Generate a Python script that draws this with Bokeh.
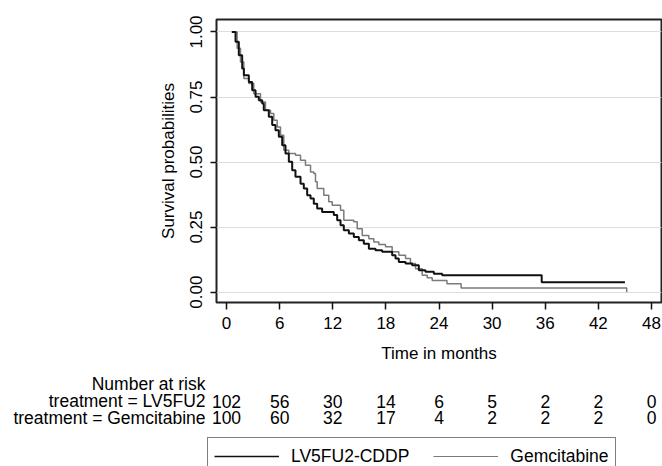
from bokeh.plotting import figure
from bokeh.models import (Range1d, FixedTicker, PrintfTickFormatter, Legend, LegendItem,
                          ColumnDataSource)
from bokeh.layouts import column, row
from bokeh.embed import file_html
from bokeh.resources import INLINE
from bokeh.core.properties import value

# ---------------- data ----------------
lv5_time = [0.6, 1.02, 1.39, 1.77, 1.96, 2.52, 2.90, 3.28, 3.65, 4.03, 4.21, 4.78,
            5.16, 5.53, 5.91, 6.29, 6.66, 7.04, 7.42, 7.79, 8.36, 8.73, 9.11, 9.49,
            9.86, 10.24, 10.8, 12.12, 12.5, 12.88, 13.25, 13.82, 14.38, 14.95, 15.51,
            16.08, 16.83, 17.58, 18.71, 19.09, 19.46, 20.22, 20.97, 21.72, 22.47,
            23.42, 24.36, 35.6, 45.0]
lv5_surv = [1.0, 0.962, 0.911, 0.860, 0.834, 0.808, 0.776, 0.751, 0.738, 0.725, 0.699, 0.674,
            0.642, 0.622, 0.597, 0.565, 0.533, 0.501, 0.468, 0.443, 0.417, 0.398, 0.372, 0.360,
            0.340, 0.321, 0.308, 0.296, 0.276, 0.257, 0.238, 0.225, 0.212, 0.199, 0.186,
            0.167, 0.161, 0.155, 0.142, 0.129, 0.116, 0.110, 0.103, 0.084, 0.078,
            0.071, 0.065, 0.038, 0.038]

gem_time = [0.6, 1.2, 1.58, 1.96, 2.52, 3.08, 3.84, 4.40, 4.97, 5.34, 5.72, 6.1,
            6.47, 7.04, 7.79, 8.36, 8.92, 9.49, 9.86, 10.05, 10.24, 10.99, 11.55, 11.94,
            12.88, 13.25, 14.38, 14.76, 15.33, 16.08, 16.64, 17.2, 17.96, 18.71, 19.46,
            20.22, 20.78, 21.35, 22.1, 22.67, 23.23, 24.9, 26.5, 45.2]
gem_surv = [1.0, 0.937, 0.885, 0.821, 0.802, 0.763, 0.731, 0.699, 0.687, 0.661, 0.635, 0.603,
            0.545, 0.533, 0.526, 0.507, 0.488, 0.462, 0.456, 0.424, 0.398, 0.372, 0.347, 0.334,
            0.315, 0.276, 0.270, 0.244, 0.218, 0.205, 0.193, 0.183, 0.174, 0.155, 0.142,
            0.129, 0.110, 0.090, 0.065, 0.055, 0.045, 0.032, 0.016, 0.0]

x_ticks = [0, 6, 12, 18, 24, 30, 36, 42, 48]
y_ticks = [0, 0.25, 0.5, 0.75, 1.0]
risk_lv5 = [102, 56, 30, 14, 6, 5, 2, 2, 0]
risk_gem = [100, 60, 32, 17, 4, 2, 2, 2, 0]
row_labels = ["treatment = LV5FU2", "treatment = Gemcitabine"]
risk_title = "Number at risk"
series_names = ["LV5FU2-CDDP", "Gemcitabine"]

# ---------------- layout / style ----------------
FONT = "Liberation Sans"
FS = "17px"
FS_T = "17.5px"
W, H = 662, 466
BL, BR = 216, 1
H1 = 372                 # top figure height (frame 19..302)
H2 = H - H1              # table figure height
X0, X1 = -1.13, 49.13
SCALE = (W - BL - BR) / (X1 - X0)
BLACK = "#111111"
GRAY = "#7a7a7a"

p = figure(width=W, height=H1, x_range=Range1d(X0, X1), y_range=Range1d(-0.04, 1.048),
           output_backend="svg", toolbar_location=None,
           min_border_left=BL, min_border_right=BR, min_border_top=19,
           min_border_bottom=H1 - 302)
p.outline_line_color = "#222222"
p.outline_line_width = 2
p.xgrid.visible = False
p.ygrid.ticker = FixedTicker(ticks=y_ticks)
p.ygrid.grid_line_color = "#dddddd"
p.ygrid.grid_line_width = 1

p.xaxis.ticker = FixedTicker(ticks=x_ticks)
p.yaxis.ticker = FixedTicker(ticks=y_ticks)
p.yaxis.formatter = PrintfTickFormatter(format="%.2f")
p.yaxis.major_label_orientation = "vertical"
p.xaxis.axis_label = "Time in months"
p.yaxis.axis_label = "Survival probabilities"
for ax in (p.xaxis, p.yaxis):
    ax.axis_line_color = None
    ax.minor_tick_line_color = None
    ax.major_tick_in = 0
    ax.major_tick_line_color = BLACK
    ax.major_tick_line_width = 1.5
    ax.major_label_text_font = FONT
    ax.major_label_text_font_size = FS
    ax.major_label_text_color = "black"
    ax.axis_label_text_font = FONT
    ax.axis_label_text_font_size = FS
    ax.axis_label_text_font_style = "normal"
    ax.axis_label_text_color = "black"
p.xaxis.major_tick_out = 7
p.xaxis.major_label_standoff = 7
p.xaxis.axis_label_standoff = 12
p.yaxis.major_tick_out = 6
p.yaxis.major_label_standoff = 8
p.yaxis.axis_label_standoff = 10

p.step(gem_time, gem_surv, mode="after", line_color=GRAY, line_width=1.5)
p.step(lv5_time, lv5_surv, mode="after", line_color=BLACK, line_width=2)

# ---------------- risk table figure: frame = whole canvas, same x mapping ----------------
bx0 = X0 - BL / SCALE
bx1 = X1 + BR / SCALE
p2 = figure(width=W, height=H2, x_range=Range1d(bx0, bx1), y_range=Range1d(H, H1),
            output_backend="svg", toolbar_location=None,
            x_axis_location=None, y_axis_location=None,
            min_border_left=0, min_border_right=0, min_border_top=0, min_border_bottom=0)
p2.outline_line_color = None
p2.grid.visible = False

title_y = 383
row_y = [400.5, 417]
label_x = X0 - 11 / SCALE      # right edge of the row labels, left of the plot frame

p2.text(x=[label_x] * 3, y=[title_y] + row_y, text=[risk_title] + row_labels,
        text_align="right", text_baseline="middle",
        text_font=value(FONT), text_font_size=FS_T, text_color="black")

num_src = ColumnDataSource(dict(
    x=x_ticks + x_ticks,
    y=[row_y[0]] * len(x_ticks) + [row_y[1]] * len(x_ticks),
    t=[str(v) for v in risk_lv5] + [str(v) for v in risk_gem]))
p2.text(x="x", y="y", text="t", source=num_src, text_align="center", text_baseline="middle",
        text_font=value(FONT), text_font_size=FS_T, text_color="black")

# legend renderers (same series; they fall outside this figure's visible range)
l1 = p2.step(lv5_time, lv5_surv, mode="after", line_color=BLACK, line_width=1.5)
l2 = p2.step(gem_time, gem_surv, mode="after", line_color=GRAY, line_width=1.2)
leg = Legend(items=[LegendItem(label=series_names[0], renderers=[l1]),
                    LegendItem(label=series_names[1], renderers=[l2])],
             orientation="horizontal", location=(207, -9),
             padding=6, spacing=24, glyph_width=65, glyph_height=24, label_height=24,
             label_standoff=12, margin=0,
             label_text_font=FONT, label_text_font_size=FS_T, label_text_color="black",
             border_line_color="black", border_line_width=1.2, background_fill_alpha=1)
p2.add_layout(leg)

layout = column(p, row(p2), spacing=0)
open("out.html", "w").write(file_html(layout, INLINE))
